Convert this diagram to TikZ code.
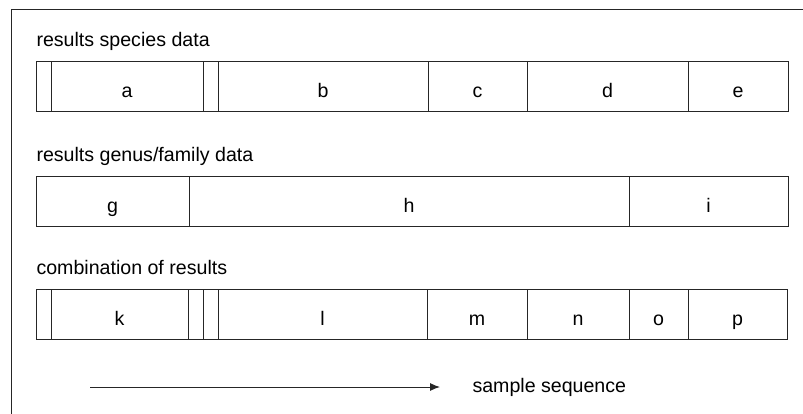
\documentclass[tikz,border=0pt]{standalone}
\usepackage{fontspec}
\setmainfont{Liberation Sans}
\usetikzlibrary{positioning,arrows.meta}

\begin{document}
\begin{tikzpicture}[x=1pt, y=-1pt, line width=1pt, black!85,
  font=\fontsize{19.6}{23.5}\selectfont,
  cell/.style={draw, rectangle, inner sep=0pt, outer sep=0pt,
    minimum height=50pt, text height=22pt, text depth=0pt, text=black},
  head/.style={anchor=base west, inner sep=0pt, text=black}]
\useasboundingbox (0,0) rectangle (803,414);
% frame
\draw (11,414) -- (11,10) -- (803,10);
%
% species
\node[head] (species) at (36,47) {results species data};
\node[cell, minimum width=15pt, anchor=north west] (s1) at (36,62) {};
\node[cell, minimum width=152pt, right=0pt of s1] (a) {a};
\node[cell, minimum width=15pt, right=0pt of a] (s2) {};
\node[cell, minimum width=210pt, right=0pt of s2] (b) {b};
\node[cell, minimum width=99pt, right=0pt of b] (c) {c};
\node[cell, minimum width=161pt, right=0pt of c] (d) {d};
\node[cell, minimum width=100pt, right=0pt of d] (e) {e};
%
% genus / family
\node[head] (genus) at (36,162) {results genus/family data};
\node[cell, minimum width=153pt, anchor=north west] (g) at (36,177) {g};
\node[cell, minimum width=440pt, right=0pt of g] (h) {h};
\node[cell, minimum width=159pt, right=0pt of h] (i) {i};
%
% combination
\node[head] (combined) at (36,274) {combination of results};
\node[cell, minimum width=15pt, anchor=north west] (s3) at (36,289) {};
\node[cell, minimum width=137pt, right=0pt of s3] (k) {k};
\node[cell, minimum width=15pt, right=0pt of k] (s4) {};
\node[cell, minimum width=15pt, right=0pt of s4] (s5) {};
\node[cell, minimum width=209pt, right=0pt of s5] (l) {l};
\node[cell, minimum width=100pt, right=0pt of l] (m) {m};
\node[cell, minimum width=102pt, right=0pt of m] (n) {n};
\node[cell, minimum width=59pt, right=0pt of n] (o) {o};
\node[cell, minimum width=99pt, right=0pt of o] (p) {p};
%
% sequence direction
\coordinate (seqstart) at (90,387);
\coordinate (seqend) at (440,387);
\draw[-{Latex[length=10pt,width=8pt]}] (seqstart) -- (seqend);
\node[head] (seq) at (472,392) {sample sequence};
\end{tikzpicture}
\end{document}
